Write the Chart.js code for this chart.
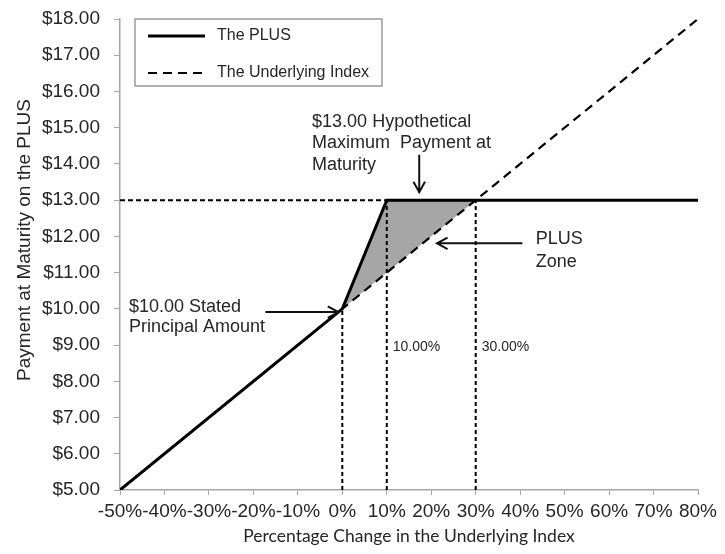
<!DOCTYPE html>
<html>
<head>
<meta charset="utf-8">
<script src="https://cdn.jsdelivr.net/npm/chart.js@4.4.1/dist/chart.umd.min.js"></script>
<style>
  html, body { margin: 0; padding: 0; background: #fff; }
  #wrap { width: 725px; height: 554px; }
</style>
</head>
<body>
<div id="wrap"><canvas id="plusChart"></canvas></div>
<script>
// ==============================
// DATA
// ==============================
const plusX = [-50, 0, 10, 80];
const plusY = [5, 10, 13, 13];

const indexX = [-50, 80];
const indexY = [5, 18];

// grey "PLUS zone" between the two lines
const zoneX = [0, 10, 30];
const zoneTop = [10, 13, 13];
const zoneBottom = [10, 11, 13];

// dashed cap line at $13
const capX = [-50, 30];
const capY = [13, 13];

// dashed vertical markers
const markerX = [0, 10, 30];
const markerTop = [10, 13, 13];
const markerLabels = ["", "10.00%", "30.00%"];

const xTicks = [-50, -40, -30, -20, -10, 0, 10, 20, 30, 40, 50, 60, 70, 80];
const yTicks = [5, 6, 7, 8, 9, 10, 11, 12, 13, 14, 15, 16, 17, 18];

const legendNames = ["The PLUS", "The Underlying Index"];

// ==============================
// HELPERS
// ==============================
function toPoints(xs, ys) {
    return xs.map((x, i) => ({ x: x, y: ys[i] }));
}

const FONT = "'Liberation Sans', Arial, sans-serif";
const INK = "#262626";
const AXIS = "#a6a6a6";

// annotation texts (data coordinates, left edge / line centre)
const notes = [
    { x: -6.8, y: 15.15, text: "$13.00 Hypothetical" },
    { x: -6.8, y: 14.57, text: "Maximum  Payment at" },
    { x: -6.8, y: 13.98, text: "Maturity" },
    { x: 43.5, y: 11.92, text: "PLUS" },
    { x: 43.5, y: 11.30, text: "Zone" },
    { x: -48, y: 10.04, text: "$10.00 Stated" },
    { x: -48, y: 9.49, text: "Principal Amount" }
];

// arrows: from -> to (head at "to")
const arrows = [
    { x1: 17.3, y1: 14.25, x2: 17.3, y2: 13.22 },
    { x1: 40.5, y1: 11.81, x2: 21.3, y2: 11.81 },
    { x1: -17.3, y1: 9.91, x2: -0.9, y2: 9.91 }
];

// ==============================
// DATASETS
// ==============================
const datasets = [];

datasets.push({
    label: legendNames[0],
    data: toPoints(plusX, plusY),
    borderColor: "#000",
    borderWidth: 3,
    pointRadius: 0,
    fill: false
});

datasets.push({
    label: legendNames[1],
    data: toPoints(indexX, indexY),
    borderColor: "#000",
    borderWidth: 2.2,
    borderDash: [9, 6],
    pointRadius: 0,
    fill: false
});

datasets.push({
    label: "cap",
    data: toPoints(capX, capY),
    borderColor: "#000",
    borderWidth: 2,
    borderDash: [5, 3],
    pointRadius: 0,
    fill: false
});

markerX.forEach((mx, i) => {
    datasets.push({
        label: "marker" + i,
        data: [{ x: mx, y: yTicks[0] }, { x: mx, y: markerTop[i] }],
        borderColor: "#000",
        borderWidth: 2,
        borderDash: [4, 3],
        pointRadius: 0,
        fill: false
    });
});

datasets.push({
    label: "zoneTop",
    data: toPoints(zoneX, zoneTop),
    borderWidth: 0,
    borderColor: "rgba(0,0,0,0)",
    backgroundColor: "#a6a6a6",
    pointRadius: 0,
    fill: "+1"
});

datasets.push({
    label: "zoneBottom",
    data: toPoints(zoneX, zoneBottom),
    borderWidth: 0,
    borderColor: "rgba(0,0,0,0)",
    pointRadius: 0,
    fill: false
});

// ==============================
// DRAWING PLUGIN (legend box, notes, arrows)
// ==============================
function drawArrow(ctx, x1, y1, x2, y2) {
    const ang = Math.atan2(y2 - y1, x2 - x1);
    const head = 12;
    const spread = 0.5;
    ctx.beginPath();
    ctx.moveTo(x1, y1);
    ctx.lineTo(x2, y2);
    ctx.moveTo(x2 - head * Math.cos(ang - spread), y2 - head * Math.sin(ang - spread));
    ctx.lineTo(x2, y2);
    ctx.lineTo(x2 - head * Math.cos(ang + spread), y2 - head * Math.sin(ang + spread));
    ctx.stroke();
}

const extrasPlugin = {
    id: "extras",
    afterDatasetsDraw(chart) {
        const ctx = chart.ctx;
        const xs = chart.scales.x;
        const ys = chart.scales.y;

        ctx.save();

        // notes
        ctx.fillStyle = INK;
        ctx.font = "18px " + FONT;
        ctx.textAlign = "left";
        ctx.textBaseline = "middle";
        notes.forEach(n => {
            ctx.fillText(n.text, xs.getPixelForValue(n.x), ys.getPixelForValue(n.y));
        });

        // marker labels
        ctx.font = "14px " + FONT;
        markerX.forEach((mx, i) => {
            if (!markerLabels[i]) return;
            ctx.fillText(markerLabels[i], xs.getPixelForValue(mx) + 6, ys.getPixelForValue(8.94));
        });

        // arrows
        ctx.strokeStyle = "#111";
        ctx.lineWidth = 2;
        ctx.setLineDash([]);
        arrows.forEach(a => {
            drawArrow(ctx,
                xs.getPixelForValue(a.x1), ys.getPixelForValue(a.y1),
                xs.getPixelForValue(a.x2), ys.getPixelForValue(a.y2));
        });

        // legend box
        const lx = 135, ly = 19, lw = 247, lh = 67;
        ctx.fillStyle = "#fff";
        ctx.fillRect(lx, ly, lw, lh);
        ctx.strokeStyle = "#9a9a9a";
        ctx.lineWidth = 1.5;
        ctx.strokeRect(lx, ly, lw, lh);

        ctx.strokeStyle = "#000";
        ctx.lineWidth = 3;
        ctx.beginPath();
        ctx.moveTo(148, 36);
        ctx.lineTo(205, 36);
        ctx.stroke();

        ctx.lineWidth = 2.2;
        ctx.setLineDash([9, 6]);
        ctx.beginPath();
        ctx.moveTo(148, 73);
        ctx.lineTo(205, 73);
        ctx.stroke();
        ctx.setLineDash([]);

        ctx.fillStyle = INK;
        ctx.font = "16px " + FONT;
        ctx.fillText(legendNames[0], 217, 36);
        ctx.fillText(legendNames[1], 217, 73);

        // y axis title
        ctx.translate(25, 240);
        ctx.rotate(-Math.PI / 2);
        ctx.textAlign = "center";
        ctx.font = "19px " + FONT;
        ctx.fillText("Payment at Maturity on the PLUS", 0, 0);

        ctx.restore();
    }
};

// ==============================
// CHART
// ==============================
new Chart(document.getElementById("plusChart"), {
    type: "line",
    data: { datasets },
    plugins: [extrasPlugin],
    options: {
        responsive: true,
        maintainAspectRatio: false,
        animation: false,
        layout: { padding: { top: 19, right: 27, left: 0, bottom: 0 } },
        plugins: {
            legend: { display: false },
            tooltip: { enabled: false }
        },
        scales: {
            x: {
                type: "linear",
                min: xTicks[0],
                max: xTicks[xTicks.length - 1],
                afterBuildTicks: (scale) => { scale.ticks = xTicks.map(v => ({ value: v })); },
                afterFit: (scale) => {
                    scale.height = 64;
                    scale.paddingLeft = 0;
                    scale.paddingRight = 0;
                },
                ticks: {
                    callback: (v) => v + "%",
                    font: { family: FONT, size: 19 },
                    color: INK,
                    padding: 5,
                    maxRotation: 0,
                    autoSkip: false
                },
                grid: { display: true, drawOnChartArea: false, drawTicks: true, tickLength: 5, color: AXIS },
                border: { color: AXIS, width: 1.5 },
                title: {
                    display: true,
                    text: "Percentage Change in the Underlying Index",
                    font: { family: "Lato, 'Open Sans', sans-serif", size: 17.5 },
                    color: INK,
                    padding: { top: 4, bottom: 7 }
                }
            },
            y: {
                type: "linear",
                min: yTicks[0],
                max: yTicks[yTicks.length - 1],
                afterBuildTicks: (scale) => { scale.ticks = yTicks.map(v => ({ value: v })); },
                afterFit: (scale) => {
                    scale.width = 120;
                    scale.paddingTop = 0;
                    scale.paddingBottom = 0;
                },
                ticks: {
                    callback: (v) => "$" + Number(v).toFixed(2),
                    font: { family: FONT, size: 19 },
                    color: INK,
                    padding: 14,
                    autoSkip: false
                },
                grid: { display: true, drawOnChartArea: false, drawTicks: true, tickLength: 6, color: AXIS },
                border: { color: AXIS, width: 1.5 }
            }
        }
    }
});
</script>
</body>
</html>
